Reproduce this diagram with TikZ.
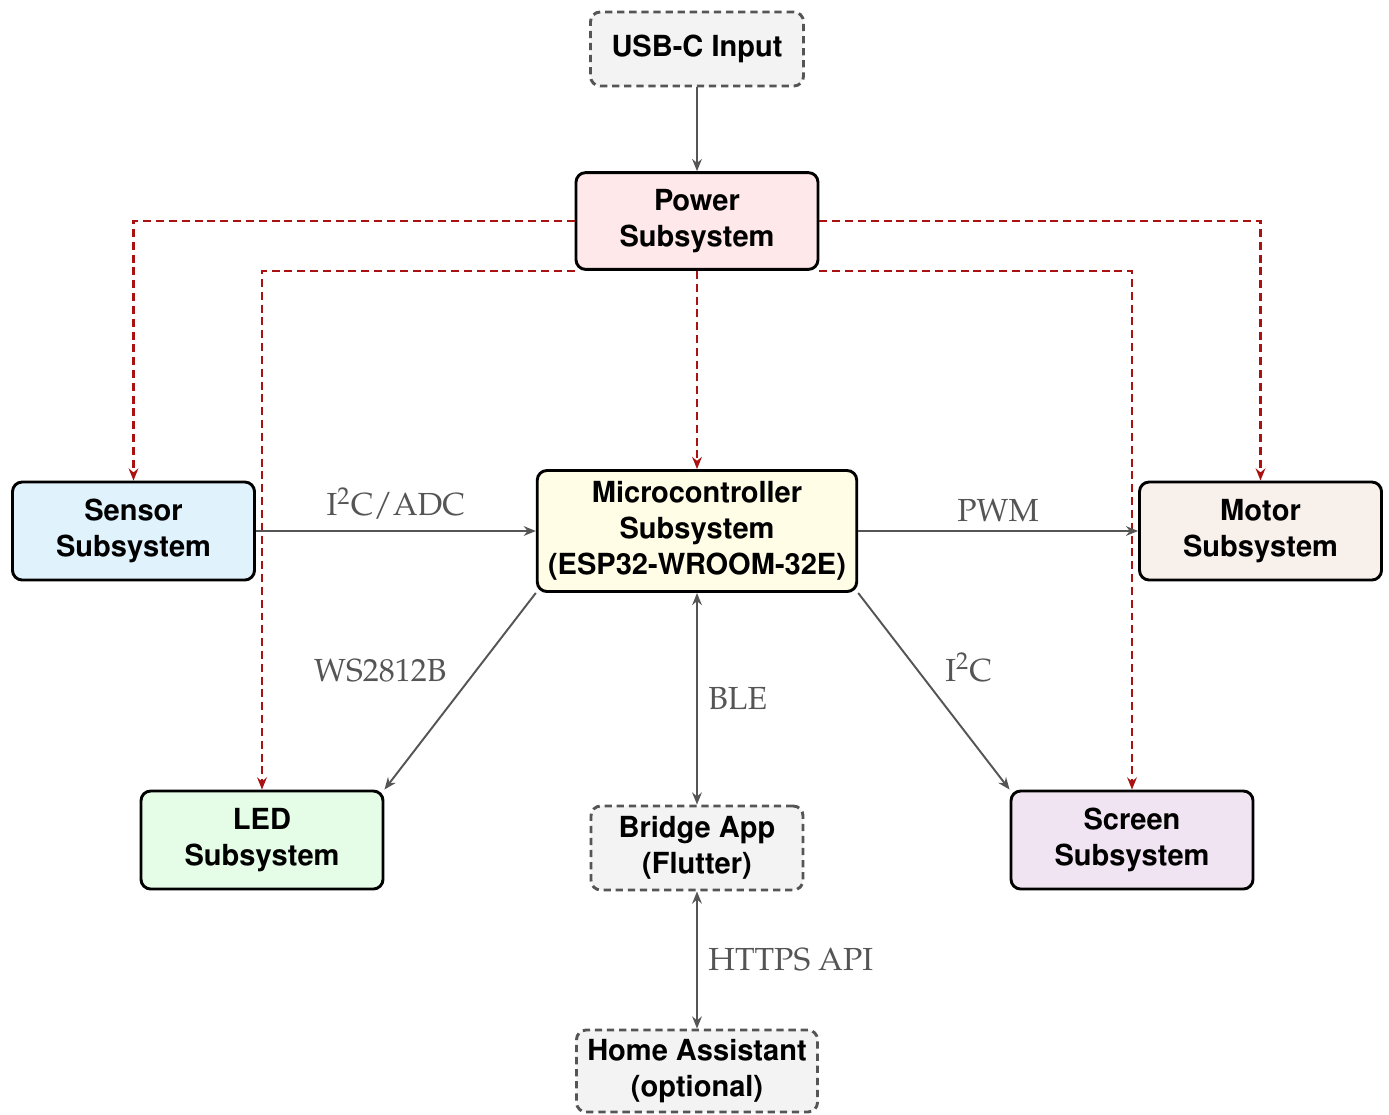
\documentclass[tikz,border=0pt]{standalone}
\usepackage[T1]{fontenc}
\usepackage{mathpazo}
\usetikzlibrary{arrows.meta}
\definecolor{dgray}{HTML}{555555}
\definecolor{pred}{HTML}{AA1111}
\definecolor{extfill}{HTML}{F3F3F3}
\definecolor{pwfill}{HTML}{FFE8EA}
\definecolor{senfill}{HTML}{E0F2FB}
\definecolor{mcufill}{HTML}{FFFDE6}
\definecolor{motfill}{HTML}{F8F0EA}
\definecolor{ledfill}{HTML}{E5FDE6}
\definecolor{scrfill}{HTML}{F1E4F2}
\begin{document}
\begin{tikzpicture}[x=0.4132pt,y=-0.4132pt,
  box/.style={draw=black, line width=1.2pt, rounded corners=4pt, align=center,
    font=\fontfamily{phv}\fontsize{12}{14.8}\selectfont\bfseries, inner sep=0pt,
    minimum width=100pt, minimum height=40.5pt},
  ext/.style={box, draw=dgray, line width=1.2pt, dash pattern=on 3pt off 2pt, fill=extfill},
  conn/.style={draw=dgray, line width=0.8pt, -{Stealth[length=5pt,width=4pt]}},
  biconn/.style={draw=dgray, line width=0.8pt, {Stealth[length=5pt,width=4pt]}-{Stealth[length=5pt,width=4pt]}},
  pwr/.style={draw=pred, line width=0.9pt, dash pattern=on 3.3pt off 2pt, -{Stealth[length=5pt,width=4pt]}},
  lbl/.style={text=dgray, font=\fontsize{13.2}{15}\selectfont}
]
\useasboundingbox (0,0) rectangle (1389,1114);

\node[ext, minimum width=88pt, minimum height=30.6pt] (usb) at (697,49) {USB-C Input};
\node[box, fill=pwfill, minimum height=40pt] (pw) at (697,221) {Power\\Subsystem};
\node[box, fill=senfill] (sen) at (133.5,531) {Sensor\\Subsystem};
\node[box, fill=mcufill, minimum width=132pt, minimum height=50pt] (mcu) at (697,531) {Microcontroller\\Subsystem\\(ESP32-WROOM-32E)};
\node[box, fill=motfill] (mot) at (1260.5,531) {Motor\\Subsystem};
\node[box, fill=ledfill] (led) at (262,840) {LED\\Subsystem};
\node[ext, minimum width=87.6pt, minimum height=34.7pt] (br) at (697,848) {Bridge App\\(Flutter)};
\node[box, fill=scrfill] (scr) at (1132,840) {Screen\\Subsystem};
\node[ext, minimum width=99.6pt, minimum height=33.9pt] (ha) at (697,1071) {Home Assistant\\(optional)};

\draw[pwr] (pw.west) -| (sen.north);
\draw[pwr] (pw.south west) -| (led.north);
\draw[pwr] (pw.south) -- (mcu.north);
\draw[pwr] (pw.east) -| (mot.north);
\draw[pwr] (pw.south east) -| (scr.north);

\draw[conn] (usb) -- (pw);
\draw[conn] (sen) -- node[lbl, above, yshift=1pt]{I\textsuperscript{2}C/ADC} (mcu);
\draw[conn] (mcu) -- node[lbl, above]{PWM} (mot);
\draw[conn] (mcu.south west) -- node[lbl, above left, xshift=-2pt]{WS2812B} (led.north east);
\draw[conn] (mcu.south east) -- node[lbl, above right, xshift=1pt]{I\textsuperscript{2}C} (scr.north west);
\draw[biconn] (mcu) -- node[lbl, right, xshift=1pt]{BLE} (br);
\draw[biconn] (br) -- node[lbl, right, xshift=1pt]{HTTPS API} (ha);
\end{tikzpicture}
\end{document}
